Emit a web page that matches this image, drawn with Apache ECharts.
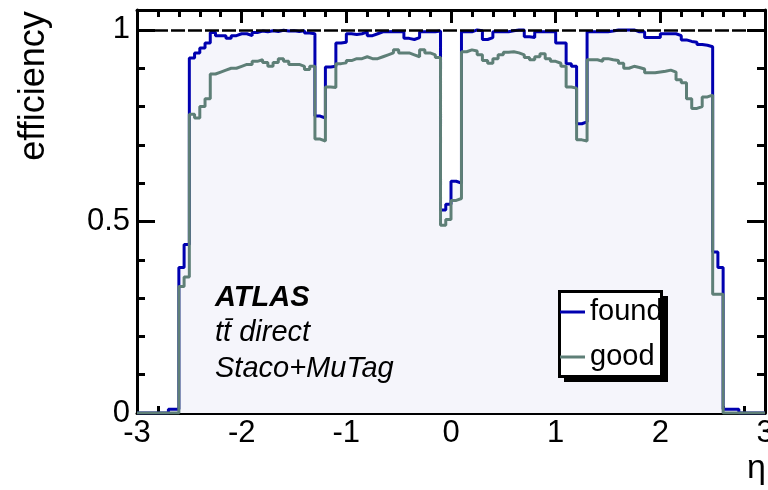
<!DOCTYPE html>
<html>
<head>
<meta charset="utf-8">
<script src="https://cdn.jsdelivr.net/npm/echarts@6/dist/echarts.min.js"></script>
<style>
html,body{margin:0;padding:0;background:#fff;}
#chart{width:768px;height:490px;}
</style>
</head>
<body>
<div id="chart"></div>
<script>
// Binning: 120 bins of width 0.05 from eta = -3 to 3
const etaMin = -3;
const etaMax = 3;
const binWidth = 0.05;

// efficiency per bin, "found" (one row = 10 bins = 0.5 in eta)
const found = [
  0, 0, 0, 0, 0, 0, 0.01, 0.01, 0.38, 0.44,
  0.927, 0.94, 0.953, 0.966, 0.993, 0.985, 0.985, 0.978, 0.985, 0.99,
  0.99, 0.985, 0.993, 0.997, 0.995, 0.998, 0.996, 0.999, 0.997, 0.998,
  0.996, 0.998, 0.992, 0.99, 0.775, 0.77, 0.903, 0.905, 0.966, 0.968,
  0.99, 0.988, 0.99, 0.995, 0.985, 0.99, 0.995, 0.995, 0.996, 0.995,
  0.995, 0.978, 0.975, 0.98, 0.995, 0.996, 0.995, 0.997, 0.53, 0.545,
  0.605, 0.60, 0.995, 0.995, 1.0, 0.998, 0.975, 0.98, 0.995, 0.995,
  0.995, 0.998, 1.0, 1.0, 0.982, 0.98, 0.995, 0.995, 0.995, 0.995,
  0.966, 0.966, 0.912, 0.905, 0.755, 0.76, 0.995, 0.995, 0.996, 0.995,
  0.997, 1.0, 1.0, 1.0, 1.0, 0.995, 0.995, 0.98, 0.98, 0.98,
  0.99, 0.99, 0.99, 0.985, 0.974, 0.97, 0.968, 0.962, 0.96, 0.956,
  0.42, 0.38, 0.01, 0.01, 0.01, 0, 0, 0, 0, 0
];

// efficiency per bin, "good"
const good = [
  0, 0, 0, 0, 0, 0, 0, 0, 0.33, 0.355,
  0.78, 0.77, 0.80, 0.82, 0.885, 0.89, 0.895, 0.90, 0.90, 0.905,
  0.91, 0.91, 0.918, 0.922, 0.915, 0.905, 0.915, 0.925, 0.918, 0.91,
  0.91, 0.905, 0.897, 0.905, 0.715, 0.71, 0.851, 0.85, 0.912, 0.914,
  0.92, 0.925, 0.925, 0.93, 0.925, 0.925, 0.93, 0.935, 0.94, 0.948,
  0.94, 0.94, 0.935, 0.93, 0.948, 0.94, 0.935, 0.928, 0.49, 0.505,
  0.555, 0.56, 0.943, 0.948, 0.945, 0.935, 0.92, 0.913, 0.925, 0.935,
  0.942, 0.943, 0.94, 0.935, 0.928, 0.922, 0.93, 0.938, 0.925, 0.918,
  0.913, 0.905, 0.851, 0.848, 0.713, 0.71, 0.922, 0.922, 0.918, 0.925,
  0.922, 0.92, 0.913, 0.90, 0.905, 0.902, 0.898, 0.888, 0.888, 0.89,
  0.892, 0.895, 0.89, 0.87, 0.862, 0.82, 0.795, 0.80, 0.825, 0.83,
  0.31, 0.31, 0, 0, 0, 0, 0, 0, 0, 0
];

const seriesNames = ['found', 'good'];
const yTickLabels = ['0', '0.5', '1'];
const referenceLine = 1;
const infoLines = ['ATLAS', 'tt\u0304 direct', 'Staco+MuTag'];
const xTitle = '\u03b7';
const yTitle = 'efficiency';

function stepData(values) {
  const pts = values.map((v, i) => [Math.round((etaMin + i * binWidth) * 1000) / 1000, v]);
  pts.push([etaMax, values[values.length - 1]]);
  return pts;
}

const FONT = '"Liberation Sans", Arial, Helvetica, sans-serif';
const BLUE = '#0000b0';
const GREEN = '#5e7f77';

const yMax = 1.052;

function yLabel(v) {
  for (const t of yTickLabels) {
    if (Math.abs(v - parseFloat(t)) < 1e-6) return t;
  }
  return '';
}

const commonX = {
  type: 'value', min: etaMin, max: etaMax, interval: 1,
  axisLine: { show: true, onZero: false, lineStyle: { color: '#000', width: 3 } },
  splitLine: { show: false }
};

const chart = echarts.init(document.getElementById('chart'), null, { renderer: 'canvas', width: 768, height: 490 });

const option = {
  animation: false,
  backgroundColor: '#fff',
  grid: { left: 137, right: 3, top: 10, bottom: 77, containLabel: false, outerBoundsMode: 'none' },
  xAxis: [
    Object.assign({}, commonX, {
      position: 'bottom',
      axisTick: { show: true, inside: true, length: 13, lineStyle: { color: '#000', width: 3 } },
      minorTick: { show: true, splitNumber: 5, length: 7, lineStyle: { color: '#000', width: 3 } },
      axisLabel: { show: true, showMinLabel: true, showMaxLabel: true, alignMinLabel: 'center', alignMaxLabel: 'center',
        margin: 5, color: '#000', fontSize: 31, fontFamily: FONT }
    }),
    Object.assign({}, commonX, {
      position: 'top',
      axisTick: { show: true, inside: true, length: 13, lineStyle: { color: '#000', width: 3 } },
      minorTick: { show: true, splitNumber: 5, length: 7, lineStyle: { color: '#000', width: 3 } },
      axisLabel: { show: false }
    })
  ],
  yAxis: [
    { type: 'value', position: 'left', min: 0, max: yMax, interval: 0.5,
      axisLine: { show: true, onZero: false, lineStyle: { color: '#000', width: 3 } },
      axisTick: { show: true, inside: true, length: 18, lineStyle: { color: '#000', width: 3 } },
      axisLabel: { show: true, showMinLabel: true, showMaxLabel: false, margin: 7, color: '#000', fontSize: 31, fontFamily: FONT, formatter: yLabel },
      splitLine: { show: false } },
    { type: 'value', position: 'left', min: 0, max: yMax, interval: 0.1,
      axisLine: { show: false, onZero: false },
      axisTick: { show: true, inside: true, length: 8, lineStyle: { color: '#000', width: 3 } },
      axisLabel: { show: false }, splitLine: { show: false } },
    { type: 'value', position: 'right', min: 0, max: yMax, interval: 0.5,
      axisLine: { show: true, onZero: false, lineStyle: { color: '#000', width: 3 } },
      axisTick: { show: true, inside: true, length: 18, lineStyle: { color: '#000', width: 3 } },
      axisLabel: { show: false }, splitLine: { show: false } },
    { type: 'value', position: 'right', min: 0, max: yMax, interval: 0.1,
      axisLine: { show: false, onZero: false },
      axisTick: { show: true, inside: true, length: 8, lineStyle: { color: '#000', width: 3 } },
      axisLabel: { show: false }, splitLine: { show: false } }
  ],
  legend: {
    orient: 'vertical', left: 560, top: 297,
    itemWidth: 25, itemHeight: 3, itemGap: 15,
    padding: 0,
    icon: 'rect',
    itemStyle: { borderWidth: 0 },
    selectedMode: false,
    data: seriesNames,
    textStyle: { fontSize: 29, fontFamily: FONT, color: '#000', lineHeight: 30 },
    z: 20
  },
  series: [
    {
      name: seriesNames[0], type: 'line', step: 'end', xAxisIndex: 0, yAxisIndex: 0,
      data: stepData(found), symbol: 'none', showSymbol: false,
      lineStyle: { color: BLUE, width: 3 }, itemStyle: { color: BLUE },
      areaStyle: { color: '#f5f5fb', opacity: 1 },
      z: 2,
      markLine: {
        silent: true, symbol: 'none', label: { show: false },
        lineStyle: { color: '#000', width: 2.5, type: [14, 3] },
        data: [{ yAxis: referenceLine }]
      }
    },
    {
      name: seriesNames[1], type: 'line', step: 'end', xAxisIndex: 0, yAxisIndex: 0,
      data: stepData(good), symbol: 'none', showSymbol: false,
      lineStyle: { color: GREEN, width: 3 }, itemStyle: { color: GREEN },
      z: 3
    }
  ],
  graphic: [
    { type: 'rect', z: 10, silent: true,
      shape: { x: 564, y: 296, width: 104, height: 86 }, style: { fill: '#000' } },
    { type: 'rect', z: 11, silent: true,
      shape: { x: 559.5, y: 291.5, width: 102, height: 85 }, style: { fill: '#fff', stroke: '#000', lineWidth: 3 } },
    { type: 'text', x: 215, y: 298, z: 100,
      style: { text: infoLines[0], font: 'italic bold 29px ' + FONT, fill: '#000', textAlign: 'left', textVerticalAlign: 'middle' } },
    { type: 'text', x: 215, y: 333, z: 100,
      style: { text: infoLines[1], font: 'italic 29px ' + FONT, fill: '#000', textAlign: 'left', textVerticalAlign: 'middle' } },
    { type: 'text', x: 215, y: 369, z: 100,
      style: { text: infoLines[2], font: 'italic 29px ' + FONT, fill: '#000', textAlign: 'left', textVerticalAlign: 'middle' } },
    { type: 'text', x: 766, y: 469, z: 100,
      style: { text: xTitle, font: '34px ' + FONT, fill: '#000', textAlign: 'right', textVerticalAlign: 'middle' } },
    { type: 'text', x: 34, y: 86, rotation: Math.PI / 2, z: 100,
      style: { text: yTitle, font: '36px ' + FONT, fill: '#000', textAlign: 'center', textVerticalAlign: 'middle' } }
  ]
};

chart.setOption(option);
</script>
</body>
</html>
